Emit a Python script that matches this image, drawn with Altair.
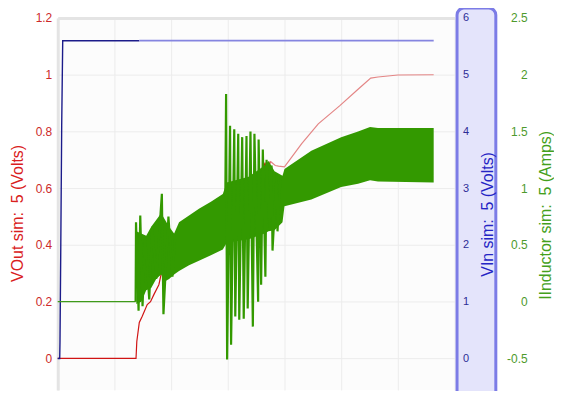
import altair as alt
import pandas as pd

# ---- data (time in grid units, 0..7) ----
vout_dark_t = [0, 1.381, 1.395, 1.439, 1.491, 1.579, 1.637, 1.696, 1.784, 1.842,
               1.900, 1.988, 2.228, 2.491, 2.754, 2.956, 2.982, 3.018, 3.070, 3.123,
               3.175, 3.228, 3.281, 3.333, 3.386, 3.439, 3.491, 3.544, 3.596, 3.658,
               3.689, 3.749]
vout_dark_v = [0, 0, 0.06, 0.127, 0.149, 0.19, 0.20, 0.225, 0.26, 0.313,
               0.324, 0.36, 0.41, 0.47, 0.54, 0.575, 0.62, 0.57, 0.62, 0.58,
               0.62, 0.585, 0.625, 0.59, 0.63, 0.60, 0.64, 0.61, 0.65, 0.69,
               0.64, 0.695]
vout_light_t = [3.749, 3.837, 3.895, 4.0, 4.304, 4.596, 4.977, 5.298, 5.521, 5.649, 6.0, 6.632]
vout_light_v = [0.695, 0.68, 0.678, 0.675, 0.757, 0.827, 0.891, 0.949, 0.988, 0.992, 0.999, 1.0]

vin_dark_t = [0, 0.035, 0.040, 0.053, 0.070, 0.088, 1.439]
vin_dark_v = [0, 0, 0.29, 1.86, 4.1, 5.6, 5.6]
vin_light_t = [1.439, 6.632]
vin_light_v = [5.6, 5.6]

ind_flat_t = [0, 1.374]
ind_flat_v = [0, 0]
ind_ring1_t = [1.374, 1.381, 1.426, 1.456, 1.496, 1.544, 1.614, 1.667, 1.737,
               1.837, 1.865, 1.953, 2.023, 2.070]
ind_ring1_v = [0, 0.70, -0.08, 0.76, -0.04, 0.57, 0.02, 0.66, 0.20,
               0.95, -0.11, 0.75, 0.22, 0.55]
ind_ring2_t = [2.956, 2.970, 2.988, 3.040, 3.058, 3.114, 3.132, 3.184, 3.202, 3.254,
               3.281, 3.330, 3.351, 3.400, 3.442, 3.470, 3.535, 3.544, 3.588, 3.618,
               3.663, 3.684, 3.737, 3.772, 3.789, 3.860, 3.877, 3.930]
ind_ring2_v = [0.9, 1.83, -0.51, 1.55, -0.38, 1.52, -0.13, 1.48, -0.16, 1.45,
               -0.15, 1.46, -0.06, 1.50, -0.22, 1.48, 0.0, 1.43, 0.15, 1.34,
               0.22, 1.25, 0.65, 1.20, 0.45, 1.12, 0.62, 1.10]

band_t = [1.386, 1.474, 1.561, 1.649, 1.737, 1.825, 1.895, 1.965, 2.053, 2.140,
          2.316, 2.491, 2.702, 2.912, 2.982, 3.368, 3.649, 3.719, 3.825, 3.965,
          4.0, 4.474, 5.0, 5.298, 5.509, 5.649, 6.632]
band_lo = [-0.02, 0.0, 0.10, 0.12, 0.20, 0.24, 0.18, 0.20, 0.24, 0.27,
           0.32, 0.36, 0.41, 0.46, 0.52, 0.55, 0.60, 0.62, 0.63, 0.70,
           0.84, 0.90, 1.01, 1.04, 1.07, 1.06, 1.05]
band_hi = [0.62, 0.60, 0.58, 0.66, 0.72, 0.78, 0.72, 0.66, 0.60, 0.70,
           0.76, 0.82, 0.88, 0.95, 1.05, 1.10, 1.20, 1.24, 1.15, 1.11,
           1.17, 1.33, 1.45, 1.50, 1.54, 1.53, 1.53]

vout_ticks = [0, 0.2, 0.4, 0.6, 0.8, 1.0, 1.2]
vin_ticks = [0, 1, 2, 3, 4, 5, 6]
ind_ticks = [-0.5, 0, 0.5, 1, 1.5, 2, 2.5]
x_ticks = [0, 1, 2, 3, 4, 5, 6, 7]

W, H = 399, 374
FONT = "Liberation Sans"
HYPHEN_LABEL = "datum.value < 0 ? '-' + format(-datum.value, '~g') : format(datum.value, '~g')"

vout_dark = pd.DataFrame({"t": vout_dark_t, "v": vout_dark_v})
vout_light = pd.DataFrame({"t": vout_light_t, "v": vout_light_v})
vin_dark = pd.DataFrame({"t": vin_dark_t, "v": vin_dark_v})
vin_light = pd.DataFrame({"t": vin_light_t, "v": vin_light_v})
flat = pd.DataFrame({"t": ind_flat_t, "v": ind_flat_v})
ring = pd.concat([
    pd.DataFrame({"t": ind_ring1_t, "v": ind_ring1_v, "seg": "a"}),
    pd.DataFrame({"t": ind_ring2_t, "v": ind_ring2_v, "seg": "b"}),
])
band = pd.DataFrame({"t": band_t, "lo": band_lo, "hi": band_hi})

xenc = alt.X("t:Q", scale=alt.Scale(domain=[0, 7], nice=False, zero=False),
             axis=alt.Axis(orient="top", values=x_ticks, labels=False, ticks=False,
                           title=None, grid=True, gridColor="#ececec",
                           domainColor="#e4e4e4", domainWidth=3))

vout_scale = alt.Scale(domain=[-0.111, 1.2], nice=False, zero=False)
vin_scale = alt.Scale(domain=[-0.555, 6], nice=False, zero=False)
ind_scale = alt.Scale(domain=[-0.778, 2.5], nice=False, zero=False)

# decorative highlight behind the VIn axis
bg = alt.Chart(pd.DataFrame({"k": [0]})).mark_rect(
    fill="#e4e4fb", stroke="#7c7ce6", strokeWidth=3, cornerRadius=7
).encode(x=alt.value(401.5), x2=alt.value(440.5), y=alt.value(-10), y2=alt.value(H + 30))

red1 = alt.Chart(vout_dark).mark_line(color="#d01414", strokeWidth=1.2).encode(
    x=xenc,
    y=alt.Y("v:Q", scale=vout_scale,
            axis=alt.Axis(orient="left", values=vout_ticks, labelExpr=HYPHEN_LABEL,
                          title="VOut sim:\u00a0 5 (Volts)", titleColor="#d92020",
                          titleFontSize=16, titleFontWeight="normal", titleFont=FONT,
                          titleAngle=270, titleX=-40.5, titleY=196,
                          titleAlign="center", titleBaseline="middle",
                          labelColor="#cc2a2a", labelFontSize=12, labelFont=FONT,
                          labelPadding=6, ticks=False, tickSize=0,
                          domainColor="#e4e4e4", domainWidth=3,
                          grid=True, gridColor="#ececec")),
)
red2 = alt.Chart(vout_light).mark_line(color="#e48686", strokeWidth=1.2).encode(
    x=xenc, y=alt.Y("v:Q", scale=vout_scale, axis=None))

blue1 = alt.Chart(vin_dark).mark_line(color="#1c1c8a", strokeWidth=1.4).encode(
    x=xenc,
    y=alt.Y("v:Q", scale=vin_scale,
            axis=alt.Axis(orient="right", values=vin_ticks, labelExpr=HYPHEN_LABEL,
                          title="VIn sim:\u00a0 5 (Volts)", titleColor="#2424c4",
                          titleFontSize=16, titleFontWeight="normal", titleFont=FONT,
                          titleAngle=270, titleX=33, titleY=197,
                          titleAlign="center", titleBaseline="middle",
                          labelColor="#2c2c96", labelFontSize=11, labelFont=FONT,
                          labelPadding=8, ticks=False, tickSize=0, domain=False,
                          grid=False, zindex=1)),
)
blue2 = alt.Chart(vin_light).mark_line(color="#8585e0", strokeWidth=1.8).encode(
    x=xenc, y=alt.Y("v:Q", scale=vin_scale, axis=None))

green_band = alt.Chart(band).mark_area(color="#339900", opacity=1).encode(
    x=xenc,
    y=alt.Y("lo:Q", scale=ind_scale,
            axis=alt.Axis(orient="right", offset=45, values=ind_ticks, labelExpr=HYPHEN_LABEL,
                          title="IInductor sim:\u00a0 5 (Amps)", titleColor="#44a01c",
                          titleFontSize=16, titleFontWeight="normal", titleFont=FONT,
                          titleAngle=270, titleX=46, titleY=198,
                          titleAlign="center", titleBaseline="middle",
                          labelColor="#4e9a2c", labelFontSize=12, labelFont=FONT,
                          labelAlign="right", labelPadding=28,
                          ticks=False, tickSize=0, domain=False, grid=False)),
    y2="hi:Q",
)
green_flat = alt.Chart(flat).mark_line(color="#3f9a1a", strokeWidth=1.2).encode(
    x=xenc, y=alt.Y("v:Q", scale=ind_scale, axis=None))
green_ring = alt.Chart(ring).mark_line(color="#339900", strokeWidth=2.2).encode(
    x=xenc, y=alt.Y("v:Q", scale=ind_scale, axis=None), detail="seg:N")

chart = alt.layer(bg, red1, red2, blue1, blue2, green_band, green_flat, green_ring).resolve_scale(
    y="independent"
).properties(
    width=W, height=H,
    autosize=alt.AutoSizeParams(type="none"),
    padding={"left": 50, "top": 9, "right": 100, "bottom": 0},
).configure_view(fill="#fcfcfc", strokeWidth=0)

chart.save("out.html", embed_options={"renderer": "svg", "actions": False})
